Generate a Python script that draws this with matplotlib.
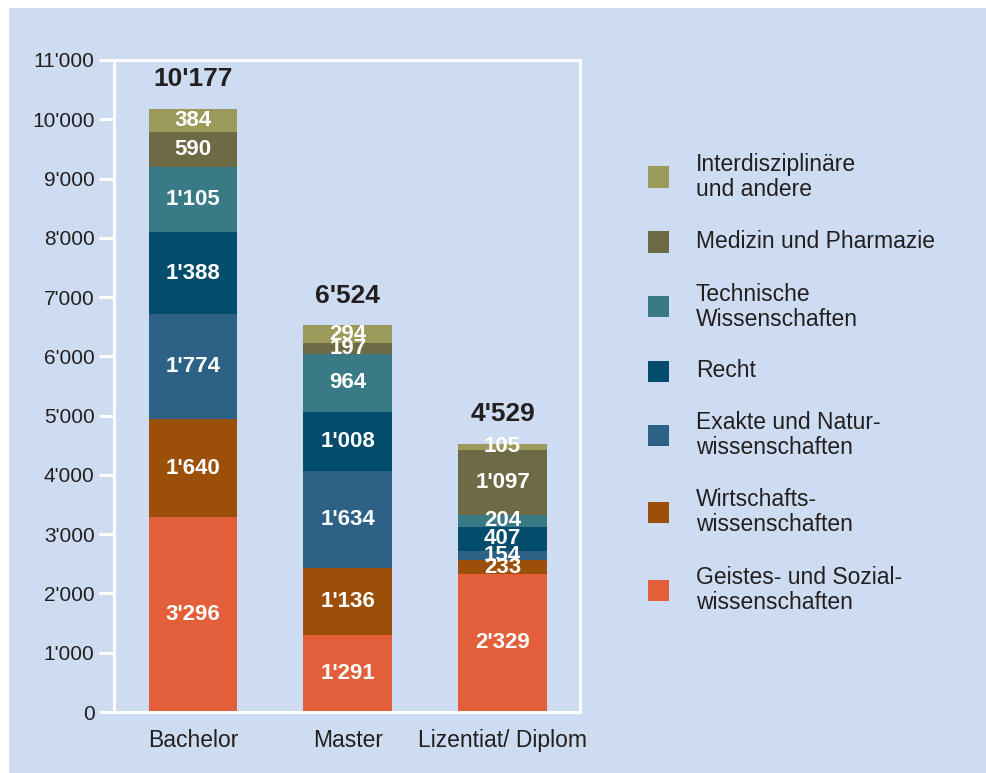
import matplotlib.pyplot as plt
from matplotlib.patches import Rectangle
import numpy as np

plt.rcParams['font.family'] = ['Liberation Sans', 'DejaVu Sans']

# Data
degrees = ["Bachelor", "Master", "Lizentiat/ Diplom"]
categories = [
    "Geistes- und Sozial-\nwissenschaften",
    "Wirtschafts-\nwissenschaften",
    "Exakte und Natur-\nwissenschaften",
    "Recht",
    "Technische\nWissenschaften",
    "Medizin und Pharmazie",
    "Interdisziplinäre\nund andere",
]
geistes = [3296, 1291, 2329]
wirtschaft = [1640, 1136, 233]
exakte = [1774, 1634, 154]
recht = [1388, 1008, 407]
technik = [1105, 964, 204]
medizin = [590, 197, 1097]
interdisz = [384, 294, 105]
totals = [10177, 6524, 4529]
y_ticks = [0, 1000, 2000, 3000, 4000, 5000, 6000, 7000, 8000, 9000, 10000, 11000]

colors = ['#e35f3a', '#9c4f09', '#2e6186', '#034c6b', '#3a7a86', '#6d6b45', '#9c9a5a']
series = [geistes, wirtschaft, exakte, recht, technik, medizin, interdisz]

bg = '#cddcf0'
dark = '#231f20'
W, H = 987, 773


def fmt(v):
    return f"{v:,}".replace(",", "'")


fig = plt.figure(figsize=(W / 100, H / 100), dpi=100, facecolor=bg)
# white margin at top and left
fig.patches.append(Rectangle((0, 1 - 8 / H), 1, 8 / H, transform=fig.transFigure,
                             facecolor='white', edgecolor='none', zorder=-10))
fig.patches.append(Rectangle((0, 0), 9 / W, 1, transform=fig.transFigure,
                             facecolor='white', edgecolor='none', zorder=-10))

ax = fig.add_axes([114 / W, 1 - 712 / H, (580 - 114) / W, (712 - 60) / H])
ax.set_facecolor(bg)

x = np.arange(len(degrees))
bottom = np.zeros(len(degrees))
for vals, col in zip(series, colors):
    vals = np.array(vals)
    ax.bar(x, vals, width=0.574, bottom=bottom, color=col, edgecolor='none', zorder=2)
    for xi, b, v in zip(x, bottom, vals):
        ax.text(xi, b + v / 2, fmt(v), ha='center', va='center', color='white',
                fontsize=16, fontweight='bold', zorder=3)
    bottom += vals

for xi, t in zip(x, totals):
    ax.text(xi, t + 500, fmt(t), ha='center', va='center', color=dark,
            fontsize=19, fontweight='bold')

ax.set_xlim(-0.51, 2.5)
ax.set_ylim(0, 11000)
ax.set_yticks(y_ticks)
ax.set_yticklabels([fmt(v) for v in y_ticks], fontsize=15, color=dark)
ax.set_xticks(x)
ax.set_xticklabels(degrees, fontsize=16.5, color=dark)
ax.tick_params(axis='y', length=11, width=2.2, color='white', pad=3)
ax.tick_params(axis='x', length=0, pad=12)
for s in ax.spines.values():
    s.set_color('white')
    s.set_linewidth(2.2)

# Legend (top to bottom: Interdisziplinäre ... Geistes)
legend_y = [177, 242, 307, 371, 435, 512, 590]
for name, col, yc in zip(categories[::-1], colors[::-1], legend_y):
    fig.patches.append(Rectangle((648 / W, 1 - (yc + 10.5) / H), 21 / W, 21 / H,
                                 transform=fig.transFigure, facecolor=col,
                                 edgecolor='none'))
    fig.text(696 / W, 1 - yc / H, name, ha='left', va='center', fontsize=16.5,
             color=dark, linespacing=1.1)

fig.savefig('out.png', dpi=100, facecolor=bg)
